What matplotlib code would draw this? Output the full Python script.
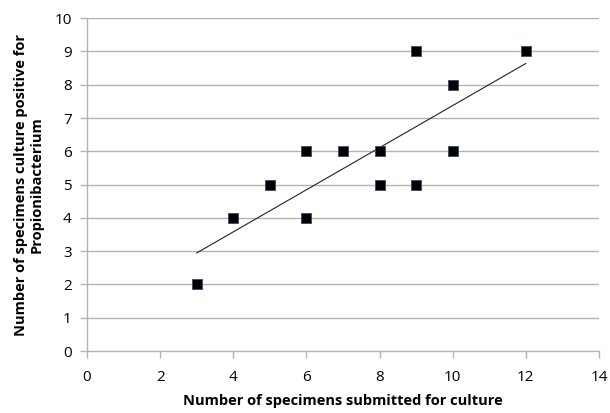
import numpy as np
import matplotlib
matplotlib.use("Agg")
import matplotlib.pyplot as plt

plt.rcParams['font.family'] = ['Open Sans', 'DejaVu Sans']

x_submitted = [3, 4, 5, 6, 6, 7, 8, 8, 9, 9, 10, 10, 12]
y_positive = [2, 4, 5, 6, 4, 6, 6, 5, 9, 5, 8, 6, 9]
x_ticks = [0, 2, 4, 6, 8, 10, 12, 14]
y_ticks = list(range(0, 11))

fig = plt.figure(figsize=(6.1, 4.13), dpi=100)
ax = fig.add_axes([0.1426, 0.150, 0.8394, 0.806])

gc = '#b3b3b3'
for yv in y_ticks[1:]:
    ax.axhline(yv, color=gc, lw=1.0, zorder=0)

# linear trendline
coef = np.polyfit(x_submitted, y_positive, 1)
xl = np.array([min(x_submitted), max(x_submitted)])
ax.plot(xl, np.polyval(coef, xl), color='#222222', lw=0.8, zorder=2)

ax.scatter(x_submitted, y_positive, marker='s', s=42, color='black',
           edgecolors='#3a4a70', linewidths=0.6, zorder=3)

ax.set_xlim(0, 14)
ax.set_ylim(0, 10)
ax.set_xticks(x_ticks)
ax.set_yticks(y_ticks)
for s in ['top', 'right']:
    ax.spines[s].set_visible(False)
for s in ['left', 'bottom']:
    ax.spines[s].set_color(gc)
    ax.spines[s].set_linewidth(1.0)
ax.tick_params(axis='both', colors=gc, labelcolor='black', labelsize=11,
               length=5, width=1.0)
ax.tick_params(axis='x', pad=9)
ax.tick_params(axis='y', pad=6)

ax.set_xlabel('Number of specimens submitted for culture', fontsize=10.5,
              fontweight='bold', labelpad=6)
ax.set_ylabel('Number of specimens culture positive for\nPropionibacterium',
              fontsize=10.5, fontweight='bold', labelpad=8, linespacing=1.1)

fig.savefig('out.png', dpi=100)
